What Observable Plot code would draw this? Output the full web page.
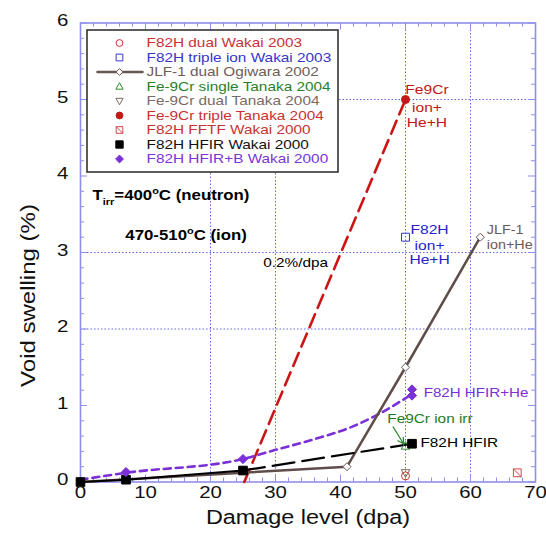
<!DOCTYPE html>
<html><head><meta charset="utf-8">
<script src="https://cdn.jsdelivr.net/npm/d3@7"></script>
<script src="https://cdn.jsdelivr.net/npm/@observablehq/plot@0.6"></script>
<style>body{margin:0;background:#fff;} #chart svg{display:block;}</style>
</head><body><div id="chart"></div>
<script>
// ---------- data ----------
const xTicks = [0, 10, 20, 30, 40, 50, 60, 70];
const yTicks = [0, 1, 2, 3, 4, 5, 6];
const xGrid = [20, 30, 50, 60];
const yGrid = [2, 3, 5];

const legendLabels = [
  "F82H dual Wakai 2003",
  "F82H triple ion Wakai 2003",
  "JLF-1 dual Ogiwara 2002",
  "Fe-9Cr single Tanaka 2004",
  "Fe-9Cr dual Tanaka 2004",
  "Fe-9Cr triple Tanaka 2004",
  "F82H FFTF Wakai 2000",
  "F82H HFIR Wakai 2000",
  "F82H HFIR+B Wakai 2000"
];

const f82hDualX = [50];        const f82hDualY = [0.08];
const f82hTripleX = [50];      const f82hTripleY = [3.2];
const jlfX = [0, 41, 50, 61.5]; const jlfY = [0, 0.2, 1.5, 3.2];
const fe9crSingleX = [50];     const fe9crSingleY = [0.47];
const fe9crDualX = [50];       const fe9crDualY = [0.12];
const fe9crTripleX = [50];     const fe9crTripleY = [5.0];
const fftfX = [67.2];          const fftfY = [0.12];
const hfirX = [0, 7, 25, 51];  const hfirY = [0, 0.03, 0.15, 0.5];
const hfirBX = [7, 25, 51, 51]; const hfirBY = [0.13, 0.3, 1.13, 1.21];

// trend lines
const fe9crTrendX = [25.2, 50];  const fe9crTrendY = [0, 5];
const hfirBTrendX = [0, 7, 25, 30, 36, 42, 47, 51];
const hfirBTrendY = [0.03, 0.12, 0.3, 0.42, 0.56, 0.73, 0.94, 1.15];

// annotations
const annoText = ["Fe9Cr", "ion+", "He+H", "F82H", "ion+", "He+H", "JLF-1", "ion+He",
  "F82H HFIR+He", "Fe9Cr ion irr", "F82H HFIR", "0.2%/dpa",
  "T_{irr}=400^{o}C (neutron)", "470-510^{o}C (ion)"];
const annoX = [53.3, 53.3, 53.3, 53.7, 53.7, 53.7, 62.5, 62.5, 52.8, 47.2, 52.3, 28.1, 1.85, 6.9];
const annoY = [5.12, 4.89, 4.69, 3.29, 3.09, 2.90, 3.29, 3.10, 1.17, 0.83, 0.51, 2.87, 3.74, 3.22];
const arrowFrom = [48.1, 0.72];
const arrowTo = [49.7, 0.5];

// ---------- layout ----------
const W = 546, H = 537, mL = 80, mR = 11, mT = 22.5, mB = 55.5;
const xPerPx = 70 / (W - mL - mR), yPerPx = 6 / (H - mT - mB);
const lx = px => px * xPerPx;          // px from frame left -> data x
const ly = px => 6 - px * yPerPx;      // px from frame top -> data y
const K = 1.2;                         // horizontal glyph stretch of the reference

const pts = (xs, ys) => xs.map((x, i) => ({x, y: ys[i]}));

// custom symbols (r = sqrt(size/pi))
const rOf = s => Math.sqrt(s / Math.PI);
const sq = {draw(c, s) { const h = rOf(s) * 0.9; c.moveTo(-h, -h); c.lineTo(h, -h); c.lineTo(h, h); c.lineTo(-h, h); c.closePath(); }};
const sqSlash = {draw(c, s) { const h = rOf(s) * 0.85; c.moveTo(-h, -h); c.lineTo(h, -h); c.lineTo(h, h); c.lineTo(-h, h); c.closePath(); c.moveTo(-h, -h); c.lineTo(h, h); }};
const dia = {draw(c, s) { const r = rOf(s); c.moveTo(0, -r); c.lineTo(r, 0); c.lineTo(0, r); c.lineTo(-r, 0); c.closePath(); }};
const triUp = {draw(c, s) { const r = rOf(s); c.moveTo(0, -r); c.lineTo(r * 0.95, r * 0.7); c.lineTo(-r * 0.95, r * 0.7); c.closePath(); }};
const triDown = {draw(c, s) { const r = rOf(s); c.moveTo(0, r); c.lineTo(r * 0.95, -r * 0.7); c.lineTo(-r * 0.95, -r * 0.7); c.closePath(); }};

const styles = [
  {color: "#cc3535", text: "#c83232", symbol: "circle", fill: "none", r: 4},
  {color: "#3535cc", text: "#3535cc", symbol: sq, fill: "none", r: 4.4},
  {color: "#6a5652", text: "#6e5c57", symbol: dia, fill: "white", r: 4},
  {color: "#2e8b2e", text: "#2a7f2a", symbol: triUp, fill: "none", r: 4.5},
  {color: "#7a6a64", text: "#7a6a64", symbol: triDown, fill: "none", r: 4.5},
  {color: "#c41818", text: "#c83232", symbol: "circle", fill: "#c41818", r: 4},
  {color: "#d04848", text: "#c83232", symbol: sqSlash, fill: "none", r: 4.6},
  {color: "#000000", text: "#111111", symbol: sq, fill: "#000000", r: 4.8},
  {color: "#7b2fd6", text: "#7b35d6", symbol: dia, fill: "#7b2fd6", r: 4.6}
];
const seriesPts = [
  pts(f82hDualX, f82hDualY), pts(f82hTripleX, f82hTripleY), pts(jlfX, jlfY),
  pts(fe9crSingleX, fe9crSingleY), pts(fe9crDualX, fe9crDualY), pts(fe9crTripleX, fe9crTripleY),
  pts(fftfX, fftfY), pts(hfirX, hfirY), pts(hfirBX, hfirBY)
];
const annoColor = ["#c01818", "#c01818", "#c01818", "#2424c8", "#2424c8", "#2424c8", "#6b5a55", "#6b5a55",
  "#7a2ed6", "#1e7a1e", "#000", "#000", "#000", "#000"];
const annoAnchor = ["middle", "middle", "middle", "middle", "middle", "middle", "start", "start",
  "start", "start", "start", "start", "start", "start"];
const annoBold = [false, false, false, false, false, false, false, false, false, false, false, false, true, true];
const annoSize = [13, 13, 13, 13, 13, 13, 12, 12, 12.6, 12.8, 12.8, 12.8, 14, 14];

const frameCol = "#8f8fec", gridCol = "#6464e0";
const tickMarks = [];
const xMinor = d3.range(0, 70.001, 2), yMinor = d3.range(0, 6.001, 0.2).map(v => +v.toFixed(1));
const tx = len => len * yPerPx, ty = len => len * xPerPx;
for (const v of xMinor) {
  const L = v % 10 === 0 ? 7 : 4;
  tickMarks.push(Plot.ruleX([v], {x: d => d, y1: () => 0, y2: () => tx(L), stroke: frameCol, strokeWidth: 1}));
  tickMarks.push(Plot.ruleX([v], {x: d => d, y1: () => 6, y2: () => 6 - tx(L), stroke: frameCol, strokeWidth: 1}));
}
for (const v of yMinor) {
  const L = Math.abs(v - Math.round(v)) < 1e-6 ? 7 : 4;
  tickMarks.push(Plot.ruleY([v], {y: d => d, x1: () => 0, x2: () => ty(L), stroke: frameCol, strokeWidth: 1}));
  tickMarks.push(Plot.ruleY([v], {y: d => d, x1: () => 70, x2: () => 70 - ty(L), stroke: frameCol, strokeWidth: 1}));
}

// legend marks (positions from layout in px)
const legendRowY = i => ly(20 + 14.5 * i);
const legendMarks = [
  Plot.rect([0], {x1: () => lx(7), x2: () => lx(258), y1: () => ly(149.5), y2: () => ly(7.5),
    fill: "white", stroke: "#333", strokeWidth: 1.6})
];
legendLabels.forEach((lab, i) => {
  const s = styles[i];
  if (i === 2) legendMarks.push(Plot.line([{x: lx(17), y: legendRowY(i)}, {x: lx(62), y: legendRowY(i)}],
    {x: "x", y: "y", stroke: s.color, strokeWidth: 2.5}));
  legendMarks.push(Plot.dot([lab], {x: () => lx(39), y: () => legendRowY(i), symbol: s.symbol, r: s.r * 0.85,
    fill: s.fill, stroke: s.color, strokeWidth: 1}));
  legendMarks.push(Plot.text([lab], {x: () => lx(66), y: () => legendRowY(i), text: d => d, textAnchor: "start",
    fill: s.text, fontSize: 12.8}));
});

// data marks
const dataMarks = [
  Plot.line(pts(fe9crTrendX, fe9crTrendY), {x: "x", y: "y", stroke: "#cc1414", strokeWidth: 2.6, strokeDasharray: "14,7"}),
  Plot.line(pts(hfirBTrendX, hfirBTrendY), {x: "x", y: "y", stroke: "#7b2fd6", strokeWidth: 2.6, strokeDasharray: "7,5", curve: "monotone-x"}),
  Plot.line(pts(jlfX, jlfY), {x: "x", y: "y", stroke: "#5f4d49", strokeWidth: 2.5}),
  Plot.line(pts(hfirX.slice(0, 3), hfirY.slice(0, 3)), {x: "x", y: "y", stroke: "#000", strokeWidth: 2}),
  Plot.line(pts(hfirX.slice(2), hfirY.slice(2)), {x: "x", y: "y", stroke: "#000", strokeWidth: 2.2, strokeDasharray: "22,8"})
];
seriesPts.forEach((p, i) => {
  const s = styles[i];
  dataMarks.push(Plot.dot(p, {x: "x", y: "y", symbol: s.symbol, r: s.r, fill: s.fill, stroke: s.color, strokeWidth: 1}));
});

const annos = annoText.map((t, i) => ({t, x: annoX[i], y: annoY[i], i}));
const annoMarks = annos.map(a => Plot.text([a], {x: "x", y: "y", text: "t", fill: annoColor[a.i],
  textAnchor: annoAnchor[a.i], fontSize: annoSize[a.i], fontWeight: annoBold[a.i] ? "bold" : "normal"}));

const chart = Plot.plot({
  width: W, height: H, marginLeft: mL, marginRight: mR, marginTop: mT, marginBottom: mB,
  x: {domain: [0, 70], axis: null},
  y: {domain: [0, 6], axis: null},
  style: {fontFamily: "'Liberation Sans', Arial, Helvetica, sans-serif", background: "white", overflow: "visible"},
  marks: [
    Plot.ruleX(xGrid, {x: d => d, stroke: gridCol, strokeWidth: 1, strokeDasharray: "1.5,2"}),
    Plot.ruleY(yGrid, {y: d => d, stroke: gridCol, strokeWidth: 1, strokeDasharray: "1.5,2"}),
    ...tickMarks,
    Plot.frame({stroke: frameCol, strokeWidth: 1.6}),
    ...dataMarks,
    Plot.arrow([0], {x1: () => arrowFrom[0], y1: () => arrowFrom[1], x2: () => arrowTo[0], y2: () => arrowTo[1],
      stroke: "#2a8a2a", strokeWidth: 1.2, headLength: 8}),
    ...legendMarks,
    ...annoMarks,
    Plot.text(xTicks, {x: d => d, frameAnchor: "bottom", dy: 16, text: d => String(d), fontSize: 17, fill: "#111"}),
    Plot.text(yTicks, {y: d => d, frameAnchor: "left", dx: -12, dy: -2, textAnchor: "end", text: d => String(d), fontSize: 17, fill: "#111"}),
    Plot.text(["Damage level (dpa)"], {frameAnchor: "bottom", dy: 42, text: d => d, fontSize: 19.5, fill: "#111"}),
    Plot.text(["Void swelling (%)"], {x: () => lx(28 - mL), y: () => ly(295 - mT), rotate: -90, text: d => d, fontSize: 20, fill: "#111"})
  ]
});
document.getElementById("chart").append(chart);

// rich text: _{sub} and ^{sup}
const NS = "http://www.w3.org/2000/svg";
chart.querySelectorAll("text").forEach(t => {
  const s = t.textContent;
  if (!/[_^]\{/.test(s)) return;
  t.textContent = "";
  let shift = 0;
  for (const p of s.split(/([_^]\{[^}]*\})/).filter(Boolean)) {
    const ts = document.createElementNS(NS, "tspan");
    let target = 0, txt = p, small = false;
    if (p.startsWith("_{")) { target = 5; txt = p.slice(2, -1); small = true; }
    else if (p.startsWith("^{")) { target = -6; txt = p.slice(2, -1); small = true; }
    if (target - shift !== 0) ts.setAttribute("dy", target - shift);
    shift = target;
    if (small) ts.setAttribute("font-size", "65%");
    ts.textContent = txt;
    t.appendChild(ts);
  }
});
// horizontal stretch as in the reference
chart.querySelectorAll("text").forEach(t => {
  const L = t.getComputedTextLength();
  if (L > 0) { t.setAttribute("textLength", (L * K).toFixed(1)); t.setAttribute("lengthAdjust", "spacingAndGlyphs"); }
});
</script>
</body></html>
